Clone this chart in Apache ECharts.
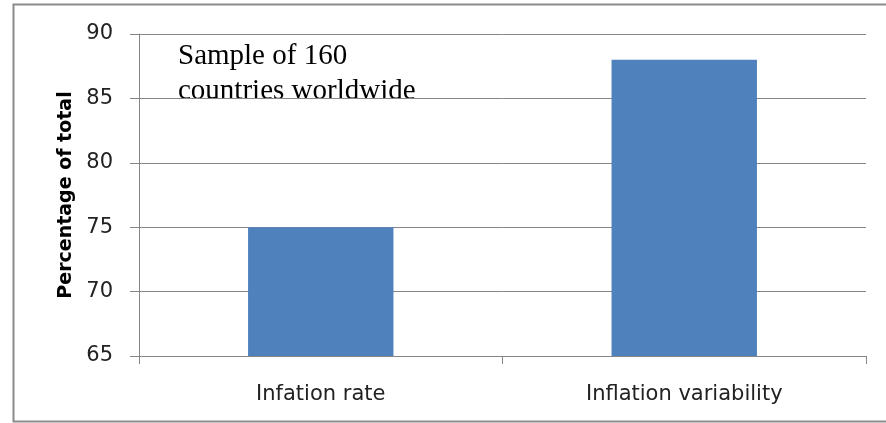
<!DOCTYPE html>
<html lang="en">
<head>
  <meta charset="UTF-8" />
  <title>Inflation</title>
  <script src="https://cdn.jsdelivr.net/npm/echarts@6/dist/echarts.min.js"></script>
  <style>
    body { margin: 0; background: #fff; }
    #main { width: 886px; height: 423px; }
  </style>
</head>
<body>
  <div id="main"></div>
  <script type="text/javascript">
    // data
    var categories = ['Infation rate', 'Inflation variability'];
    var values = [75, 88];
    var yMin = 65, yMax = 90, yStep = 5;
    var note = 'Sample of 160\ncountries worldwide';

    var axisGray = '#868686';
    var barColor = '#4f81bd';
    var sans = '"DejaVu Sans", "Liberation Sans", sans-serif';

    var myChart = echarts.init(document.getElementById('main'));
    myChart.setOption({
      animation: false,
      grid: { left: 139, right: 20, top: 34, bottom: 67 },
      graphic: [
        {
          type: 'rect',
          shape: { x: 13.5, y: 4.5, width: 900, height: 417 },
          style: { fill: null, stroke: '#8c8c8c', lineWidth: 2 },
          silent: true
        },
        {
          type: 'text',
          left: 178, top: 39,
          style: {
            text: note,
            font: '29px "Liberation Serif", "DejaVu Serif", serif',
            fill: '#000',
            lineHeight: 35
          }
        }
      ],
      xAxis: {
        type: 'category',
        data: categories,
        axisLine: { lineStyle: { color: axisGray } },
        axisTick: { show: true, length: 8, lineStyle: { color: axisGray } },
        axisLabel: {
          color: '#222',
          fontSize: 21,
          fontFamily: sans,
          margin: 28
        }
      },
      yAxis: {
        type: 'value',
        min: yMin, max: yMax, interval: yStep,
        name: 'Percentage of total',
        nameLocation: 'middle',
        nameGap: 54,
        nameTextStyle: {
          fontSize: 19, fontWeight: 'bold', color: '#000',
          fontFamily: sans
        },
        axisLine: { show: true, lineStyle: { color: axisGray } },
        axisTick: { show: true, length: 9, lineStyle: { color: axisGray } },
        splitLine: { lineStyle: { color: axisGray } },
        axisLabel: {
          color: '#222',
          fontSize: 21,
          fontFamily: sans,
          margin: 26
        }
      },
      series: [{
        type: 'bar',
        data: values,
        barWidth: '40%',
        itemStyle: { color: barColor }
      }]
    });
  </script>
</body>
</html>
